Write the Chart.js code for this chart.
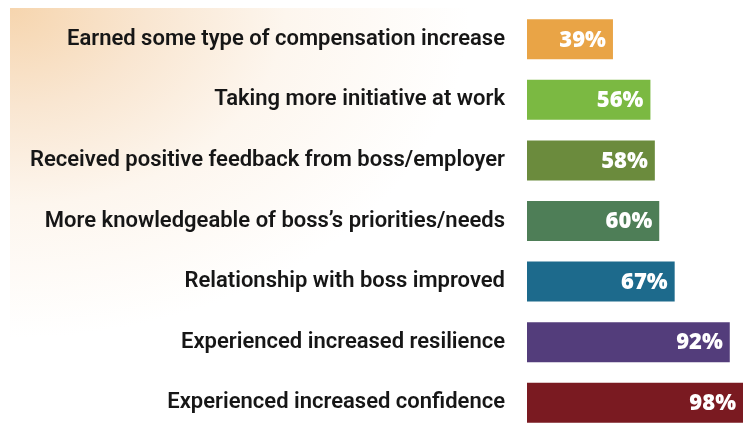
<!DOCTYPE html>
<html>
<head>
<meta charset="utf-8">
<script src="https://cdn.jsdelivr.net/npm/chart.js@4.4.1/dist/chart.umd.min.js"></script>
<style>
  html, body { margin: 0; padding: 0; background: #ffffff; }
  #wrap { position: relative; width: 743px; height: 434px; overflow: hidden; background: #ffffff; }
  #bg { position: absolute; left: 10px; top: 8px; width: 733px; height: 426px;
        background: radial-gradient(ellipse 460px 330px at 0 0, #f6d5ae 0%, #f9e6d1 30%, #fdf6ee 60%, #ffffff 100%); }
  canvas { position: absolute; left: 0; top: 0; }
</style>
</head>
<body>
<div id="wrap">
  <div id="bg"></div>
  <canvas id="c" width="743" height="434"></canvas>
</div>
<script>
const categories = [
  "Earned some type of compensation increase",
  "Taking more initiative at work",
  "Received positive feedback from boss/employer",
  "More knowledgeable of boss\u2019s priorities/needs",
  "Relationship with boss improved",
  "Experienced increased resilience",
  "Experienced increased confidence"
];
const values = [39, 56, 58, 60, 67, 92, 98];
const barColors = ["#E9A446", "#7BB942", "#6B8B3D", "#4E7E57", "#1D6A8C", "#533D7B", "#7A1A21"];

const valueLabels = {
  id: 'valueLabels',
  afterDatasetsDraw(chart) {
    const ctx = chart.ctx;
    const meta = chart.getDatasetMeta(0);
    ctx.save();
    ctx.font = "800 22px 'Open Sans', sans-serif";
    ctx.fillStyle = "#ffffff";
    ctx.textAlign = "right";
    ctx.textBaseline = "middle";
    meta.data.forEach((bar, i) => {
      const right = Math.min(bar.x, chart.width);
      ctx.fillText(values[i] + "%", right - 7, bar.y + 1);
    });
    ctx.restore();
  }
};

new Chart(document.getElementById('c'), {
  type: 'bar',
  data: {
    labels: categories,
    datasets: [{
      data: values,
      backgroundColor: barColors,
      borderWidth: 0,
      barPercentage: 0.66,
      categoryPercentage: 1.0
    }]
  },
  options: {
    indexAxis: 'y',
    responsive: false,
    animation: false,
    layout: { padding: { top: 9, bottom: 1, left: 0, right: 0 } },
    plugins: { legend: { display: false }, tooltip: { enabled: false } },
    scales: {
      x: { display: false, min: 0, max: 98 },
      y: {
        grid: { display: false, drawTicks: false },
        border: { display: false },
        ticks: {
          color: "#161616",
          padding: 22,
          font: { family: "'Roboto', sans-serif", size: 22, weight: '600' }
        },
        afterFit(scale) {
          scale.width = 527;
          scale.paddingTop = 0;
          scale.paddingBottom = 0;
        }
      }
    }
  },
  plugins: [valueLabels]
});
</script>
</body>
</html>
